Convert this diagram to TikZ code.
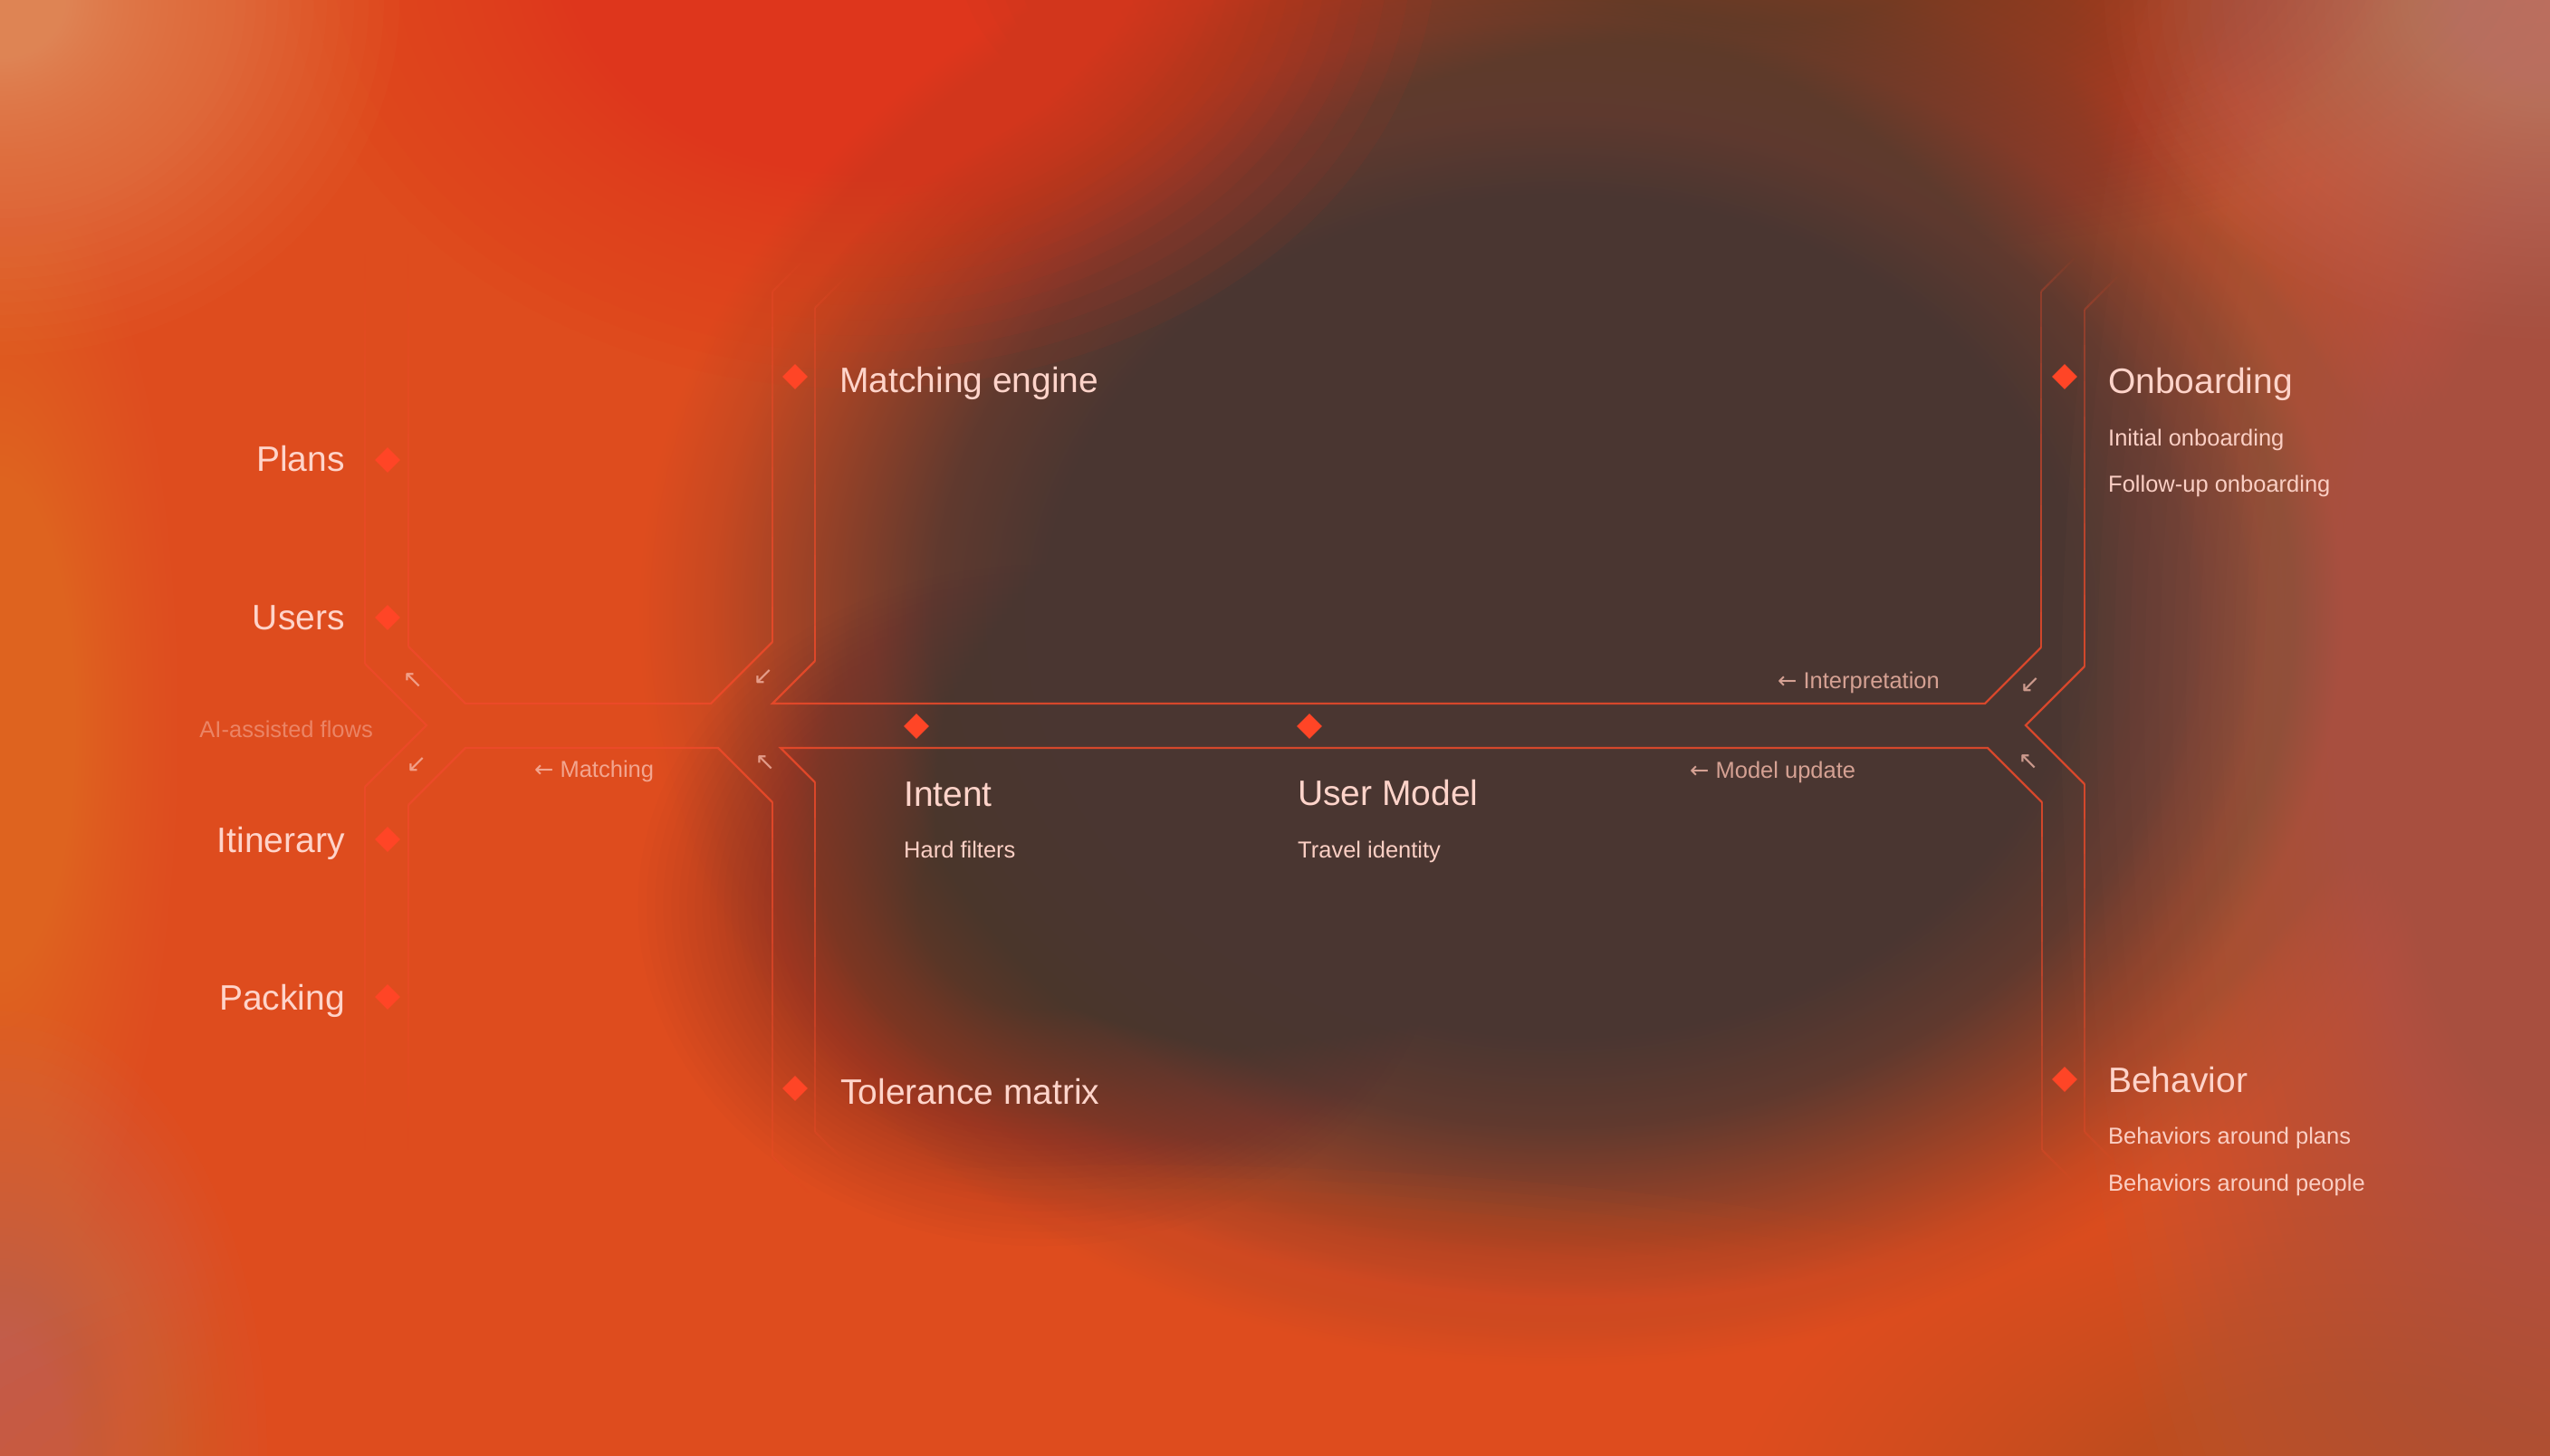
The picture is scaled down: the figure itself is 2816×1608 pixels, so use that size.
\documentclass[tikz,border=0pt]{standalone}
\usepackage{fontspec}
\setmainfont{Liberation Sans}
\newfontfamily\arrowfont{DejaVu Sans}
\usetikzlibrary{calc,shapes.geometric}

\definecolor{basebg}{HTML}{DE4C1E}
\definecolor{darkbg}{HTML}{4A3631}
\definecolor{redtop}{HTML}{E2361C}
\definecolor{browntop}{HTML}{5E3A34}
\definecolor{peach}{HTML}{F2A070}
\definecolor{leftor}{HTML}{F2823E}
\definecolor{greypink}{HTML}{C27C6A}
\definecolor{botor}{HTML}{E65A22}
\definecolor{botright}{HTML}{BE6448}
\definecolor{rightpink}{HTML}{A86656}
\definecolor{toprightpink}{HTML}{CC9282}
\definecolor{wirecol}{HTML}{EE4A2A}
\definecolor{diacol}{HTML}{FF4526}
\definecolor{titlecol}{HTML}{FFD4CA}
\definecolor{subcol}{HTML}{FBCFC4}
\definecolor{lblcol}{HTML}{F8BCAC}

% opaque radial shading: dark core blending into the base colour
\pgfdeclareradialshading{darkshade}{\pgfpointorigin}{color(0bp)=(darkbg); color(14bp)=(darkbg); color(17bp)=(darkbg!85!basebg); color(20bp)=(darkbg!50!basebg); color(23bp)=(darkbg!15!basebg); color(25bp)=(basebg); color(50bp)=(basebg)}

% soft blob from stacked translucent ellipses:
% #1 cx, #2 cy, #3 rx, #4 ry, #5 colour, #6 core opacity, #7 core fraction
\newcommand\sblob[7]{%
  \pgfmathsetmacro\la{1-(1-#6)^(1/50)}%
  \foreach \k in {1,...,50}{%
    \pgfmathsetmacro\vv{1-(1-\la)^(\k-0.5)}%
    \pgfmathsetmacro\rr{1-(1-#7)*\vv/#6}%
    \fill[#5, fill opacity=\la] (#1,#2) ellipse [x radius={#3*\rr}, y radius={#4*\rr}];
  }}

\newcommand\fadeline[4]{%
  \foreach \k in {0,...,9}{%
    \pgfmathsetmacro\ta{\k/10}%
    \pgfmathsetmacro\tb{(\k+1)/10}%
    \pgfmathsetmacro\op{#3+(#4-#3)*(\k+0.5)/10}%
    \draw[wire, draw opacity=\op] ($(#1)!\ta!(#2)$) -- ($(#1)!\tb!(#2)$);
  }}

\tikzset{
  wire/.style={draw=wirecol, line width=2.2pt, line cap=butt, line join=miter},
  dia/.style={shape=diamond, fill=diacol, draw=none, minimum width=28pt, minimum height=28pt, inner sep=0pt, shape aspect=1},
  title/.style={text=titlecol, font=\fontsize{39}{46}\selectfont, inner sep=0pt},
  sub/.style={text=subcol, font=\fontsize{25.5}{30}\selectfont, inner sep=0pt},
  lbl/.style={text=lblcol, text opacity=0.8, font=\fontsize{25.5}{30}\selectfont, inner sep=0pt},
  flow/.style={text=lblcol, text opacity=0.5, font=\fontsize{25.5}{30}\selectfont, inner sep=0pt},
  jarrow/.style={text=lblcol, text opacity=0.75, font=\arrowfont\fontsize{27}{27}\selectfont, inner sep=0pt},
}

\begin{document}
\begin{tikzpicture}[x=1pt,y=-1pt]
\useasboundingbox (0,0) rectangle (2816,1608);
\begin{scope}
\clip (0,0) rectangle (2816,1608);
\fill[basebg] (0,0) rectangle (2816,1608);
% dark core (opaque shading, centre 1724,680; radii 1020 x 830)
\shade[shading=darkshade] (704,-150) rectangle (2744,1510);
\sblob{1150}{1000}{450}{380}{darkbg}{0.6}{0.3}
% top brown / red
\sblob{1950}{-40}{900}{330}{browntop}{0.6}{0.2}
\sblob{950}{-60}{650}{500}{redtop}{0.95}{0.3}
% peach corner
\sblob{0}{0}{450}{400}{peach}{0.85}{0.1}
% left edge orange
\sblob{0}{800}{200}{650}{leftor}{0.8}{0.1}
% bottom-left grey pink
\sblob{0}{1608}{300}{500}{greypink}{0.8}{0.15}
% bottom band orange
\sblob{1250}{1700}{1500}{420}{botor}{0.9}{0.35}
% bottom right
\sblob{2600}{1700}{700}{420}{botright}{0.6}{0.2}
% right edge pink-brown
\sblob{2816}{780}{550}{1400}{rightpink}{0.9}{0.25}
\sblob{2816}{0}{500}{380}{toprightpink}{0.75}{0.1}
\end{scope}

% ---------- coordinates ----------
\coordinate (LOtop) at (403,280);
\coordinate (LOs) at (403,420);
\coordinate (LOa) at (403,733);
\coordinate (LTip) at (471,801);
\coordinate (LOb) at (403,869);
\coordinate (LOt) at (403,1150);
\coordinate (LObot) at (403,1270);

\coordinate (LItop) at (451,280);
\coordinate (LIs) at (451,420);
\coordinate (LIa) at (451,714);
\coordinate (LHtA) at (514,777);
\coordinate (LHtB) at (785,777);
\coordinate (MOa) at (853,709);
\coordinate (MOtop) at (853,322);
\coordinate (MOtopend) at (893,282);

\coordinate (LIbot) at (451,1270);
\coordinate (LIt) at (451,1150);
\coordinate (LIb) at (451,889);
\coordinate (LHbA) at (514,826);
\coordinate (LHbB) at (793,826);
\coordinate (MOb) at (853,886);
\coordinate (MObot) at (853,1277);
\coordinate (MObotend) at (893,1317);

\coordinate (MItop) at (900,340);
\coordinate (MItopend) at (940,300);
\coordinate (MIa) at (900,730);
\coordinate (MHtA) at (853,777);
\coordinate (RHtB) at (2192,777);
\coordinate (RIa) at (2254,715);
\coordinate (RItop) at (2254,322);
\coordinate (RItopend) at (2294,282);

\coordinate (MIbot) at (900,1250);
\coordinate (MIbotend) at (940,1290);
\coordinate (MIb) at (900,864);
\coordinate (MHbA) at (862,826);
\coordinate (RHbB) at (2195,826);
\coordinate (RIb) at (2255,886);
\coordinate (RIbot) at (2255,1270);
\coordinate (RIbotend) at (2295,1310);

\coordinate (ROtop) at (2302,342);
\coordinate (ROtopend) at (2342,302);
\coordinate (ROa) at (2302,736);
\coordinate (RTip) at (2237,801);
\coordinate (ROb) at (2302,866);
\coordinate (RObot) at (2302,1250);
\coordinate (RObotend) at (2342,1290);

% ---------- wires ----------
\draw[wire, draw opacity=0.8] (LOa) -- (LTip) -- (LOb);
\draw[wire, draw opacity=0.85] (LIa) -- (LHtA) -- (LHtB) -- (MOa);
\draw[wire, draw opacity=0.85] (LIb) -- (LHbA) -- (LHbB) -- (MOb);
\draw[wire, draw opacity=0.85] (MIa) -- (MHtA) -- (RHtB) -- (RIa);
\draw[wire, draw opacity=0.85] (MIb) -- (MHbA) -- (RHbB) -- (RIb);
\draw[wire, draw opacity=0.85] (ROa) -- (RTip) -- (ROb);

\fadeline{LOa}{LOs}{0.8}{0.3}
\fadeline{LOs}{LOtop}{0.3}{0}
\fadeline{LOb}{LOt}{0.8}{0.3}
\fadeline{LOt}{LObot}{0.3}{0}
\fadeline{LIa}{LIs}{0.85}{0.3}
\fadeline{LIs}{LItop}{0.3}{0}
\fadeline{LIb}{LIt}{0.85}{0.3}
\fadeline{LIt}{LIbot}{0.3}{0}

\fadeline{MOa}{MOtop}{0.85}{0.3}
\fadeline{MOtop}{MOtopend}{0.3}{0}
\fadeline{MOb}{MObot}{0.85}{0.3}
\fadeline{MObot}{MObotend}{0.3}{0}
\fadeline{MIa}{MItop}{0.85}{0.3}
\fadeline{MItop}{MItopend}{0.3}{0}
\fadeline{MIb}{MIbot}{0.85}{0.3}
\fadeline{MIbot}{MIbotend}{0.3}{0}

\fadeline{RIa}{RItop}{0.85}{0.3}
\fadeline{RItop}{RItopend}{0.3}{0}
\fadeline{RIb}{RIbot}{0.85}{0.3}
\fadeline{RIbot}{RIbotend}{0.3}{0}
\fadeline{ROa}{ROtop}{0.85}{0.3}
\fadeline{ROtop}{ROtopend}{0.3}{0}
\fadeline{ROb}{RObot}{0.85}{0.3}
\fadeline{RObot}{RObotend}{0.3}{0}

% ---------- diamonds ----------
\node[dia] (dplans) at (428,508) {};
\node[dia] (dusers) at (428,682) {};
\node[dia] (ditin) at (428,927) {};
\node[dia] (dpack) at (428,1101) {};
\node[dia] (dmatch) at (878,416) {};
\node[dia] (dtol) at (878,1202) {};
\node[dia] (dintent) at (1012,802) {};
\node[dia] (dmodel) at (1446,802) {};
\node[dia] (donb) at (2280,416) {};
\node[dia] (dbeh) at (2280,1192) {};

% ---------- titles ----------
\node[title, anchor=base east] (plans) at (381,520) {Plans};
\node[title, anchor=base east] (users) at (381,695) {Users};
\node[title, anchor=base east] (itin) at (381,941) {Itinerary};
\node[title, anchor=base east] (pack) at (381,1115) {Packing};
\node[flow, anchor=base east] (flows) at (412,814) {AI-assisted flows};

\node[title, anchor=base west] (match) at (927,433) {Matching engine};
\node[title, anchor=base west] (tol) at (928,1219) {Tolerance matrix};

\node[title, anchor=base west] (intent) at (998,890) {Intent};
\node[sub, anchor=base west] (hard) at (998,947) {Hard filters};
\node[title, anchor=base west] (model) at (1433,889) {User Model};
\node[sub, anchor=base west] (travel) at (1433,947) {Travel identity};

\node[title, anchor=base west] (onb) at (2328,434) {Onboarding};
\node[sub, anchor=base west] (onb1) at (2328,492) {Initial onboarding};
\node[sub, anchor=base west] (onb2) at (2328,543) {Follow-up onboarding};
\node[title, anchor=base west] (beh) at (2328,1206) {Behavior};
\node[sub, anchor=base west] (beh1) at (2328,1263) {Behaviors around plans};
\node[sub, anchor=base west] (beh2) at (2328,1315) {Behaviors around people};

% ---------- flow labels ----------
\node[lbl, anchor=base west] (lmatching) at (590,858) {{\arrowfont ←}\hspace{7pt}Matching};
\node[lbl, anchor=base west] (linterp) at (1963,760) {{\arrowfont ←}\hspace{7pt}Interpretation};
\node[lbl, anchor=base west] (lmodel) at (1866,859) {{\arrowfont ←}\hspace{7pt}Model update};

% ---------- junction arrows ----------
\node[jarrow] (ja1) at (456,752) {↖};
\node[jarrow] (ja2) at (460,845) {↙};
\node[jarrow] (ja3) at (843,748) {↙};
\node[jarrow] (ja4) at (845,843) {↖};
\node[jarrow] (ja5) at (2242,757) {↙};
\node[jarrow] (ja6) at (2240,842) {↖};
\end{tikzpicture}
\end{document}
